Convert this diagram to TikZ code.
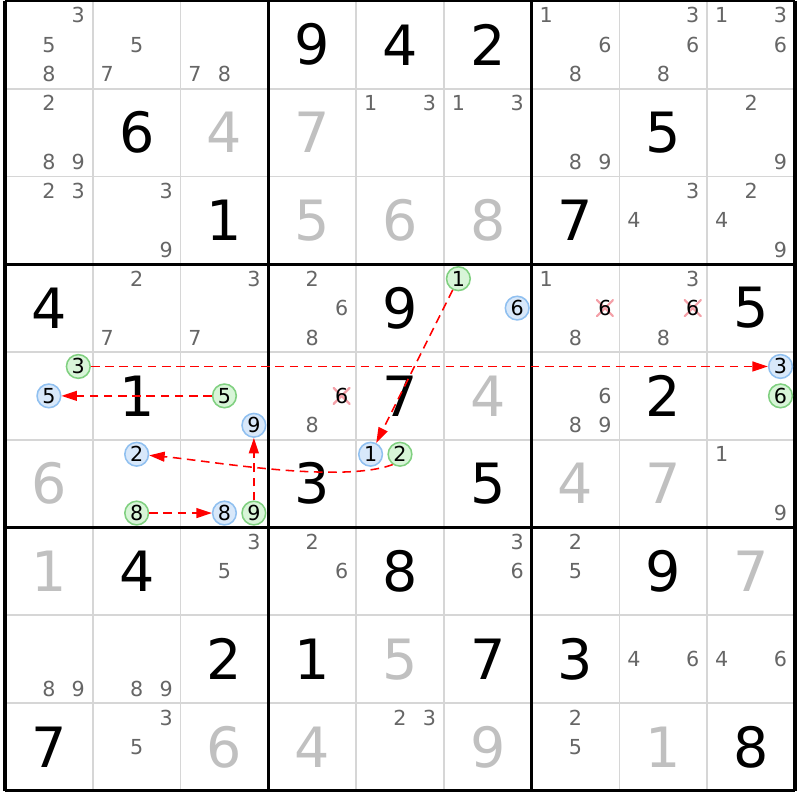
\documentclass[tikz,border=0pt]{standalone}
\usepackage{fontspec}
\setmainfont{DejaVu Sans}
\usetikzlibrary{arrows.meta}

\definecolor{candgray}{HTML}{666666}
\definecolor{solvedgray}{HTML}{C0C0C0}
\definecolor{gridgray}{HTML}{D6D6D6}
\definecolor{grnfill}{HTML}{D8F5D8}
\definecolor{grnline}{HTML}{80D080}
\definecolor{blufill}{HTML}{D8E8FA}
\definecolor{bluline}{HTML}{90C0F0}
\definecolor{xpink}{HTML}{F4A0A8}

\tikzset{
  gridline/.style={draw=gridgray, line width=0.6pt},
  boxline/.style={draw=black, line width=1pt},
  given/.style={font=\fontsize{18}{18}\selectfont, inner sep=0pt},
  solved/.style={given, text=solvedgray},
  cand/.style={font=\fontsize{6.7}{6.7}\selectfont, text=candgray, inner sep=0pt},
  hlg/.style={cand, text=black, circle, draw=grnline, fill=grnfill, line width=0.5pt, minimum size=0.27cm},
  hlb/.style={cand, text=black, circle, draw=bluline, fill=blufill, line width=0.5pt, minimum size=0.27cm},
  crossed/.style={cand, text=black, minimum size=0.2cm,
    path picture={\draw[xpink, line width=0.7pt]
      (path picture bounding box.south west) -- (path picture bounding box.north east)
      (path picture bounding box.north west) -- (path picture bounding box.south east);}},
  link/.style={draw=red, line width=0.5pt, dash pattern=on 2.8pt off 1.8pt,
    -{Triangle[length=5pt,width=3.2pt]}}
}

% cell digits and pencil marks
\newcommand{\given}[3]{\node[given] (g#1#2) at (#2-0.5,0.5-#1) {#3};}
\newcommand{\solved}[3]{\node[solved] (s#1#2) at (#2-0.5,0.5-#1) {#3};}
\newcommand{\cnd}[4][cand]{\node[#1] (c#2#3#4) at ({#3-1+0.165+0.335*mod(#4-1,3)},{1-#2-0.165-0.335*floor((#4-1)/3)}) {#4};}
\newcommand{\cands}[3]{\foreach \k in {#3}{\cnd{#1}{#2}{\k}}}

\begin{document}
\begin{tikzpicture}
\useasboundingbox (-0.057,0.01) rectangle (9.057,-9.104);
\fill[white] (-0.057,0.01) rectangle (9.057,-9.104);

% grid
\foreach \i in {1,...,8} {
  \draw[gridline] (\i,0) -- (\i,-9);
  \draw[gridline] (0,-\i) -- (9,-\i);
}
\foreach \i in {0,3,6,9} {
  \draw[boxline] (\i,0) -- (\i,-9);
  \draw[boxline] (0,-\i) -- (9,-\i);
}

% row 1
\cands{1}{1}{3,5,8} \cands{1}{2}{5,7} \cands{1}{3}{7,8}
\given{1}{4}{9} \given{1}{5}{4} \given{1}{6}{2}
\cands{1}{7}{1,6,8} \cands{1}{8}{3,6,8} \cands{1}{9}{1,3,6}
% row 2
\cands{2}{1}{2,8,9} \given{2}{2}{6} \solved{2}{3}{4}
\solved{2}{4}{7} \cands{2}{5}{1,3} \cands{2}{6}{1,3}
\cands{2}{7}{8,9} \given{2}{8}{5} \cands{2}{9}{2,9}
% row 3
\cands{3}{1}{2,3} \cands{3}{2}{3,9} \given{3}{3}{1}
\solved{3}{4}{5} \solved{3}{5}{6} \solved{3}{6}{8}
\given{3}{7}{7} \cands{3}{8}{3,4} \cands{3}{9}{2,4,9}
% row 4
\given{4}{1}{4} \cands{4}{2}{2,7} \cands{4}{3}{3,7}
\cands{4}{4}{2,6,8} \given{4}{5}{9} \cnd[hlg]{4}{6}{1} \cnd[hlb]{4}{6}{6}
\cands{4}{7}{1,8} \cnd[crossed]{4}{7}{6}
\cands{4}{8}{3,8} \cnd[crossed]{4}{8}{6} \given{4}{9}{5}
% row 5
\cnd[hlg]{5}{1}{3} \cnd[hlb]{5}{1}{5} \given{5}{2}{1}
\cnd[hlg]{5}{3}{5} \cnd[hlb]{5}{3}{9}
\cands{5}{4}{8} \cnd[crossed]{5}{4}{6} \given{5}{5}{7} \solved{5}{6}{4}
\cands{5}{7}{6,8,9} \given{5}{8}{2} \cnd[hlb]{5}{9}{3} \cnd[hlg]{5}{9}{6}
% row 6
\solved{6}{1}{6} \cnd[hlb]{6}{2}{2} \cnd[hlg]{6}{2}{8}
\cnd[hlb]{6}{3}{8} \cnd[hlg]{6}{3}{9}
\given{6}{4}{3} \cnd[hlb]{6}{5}{1} \cnd[hlg]{6}{5}{2} \given{6}{6}{5}
\solved{6}{7}{4} \solved{6}{8}{7} \cands{6}{9}{1,9}
% row 7
\solved{7}{1}{1} \given{7}{2}{4} \cands{7}{3}{3,5}
\cands{7}{4}{2,6} \given{7}{5}{8} \cands{7}{6}{3,6}
\cands{7}{7}{2,5} \given{7}{8}{9} \solved{7}{9}{7}
% row 8
\cands{8}{1}{8,9} \cands{8}{2}{8,9} \given{8}{3}{2}
\given{8}{4}{1} \solved{8}{5}{5} \given{8}{6}{7}
\given{8}{7}{3} \cands{8}{8}{4,6} \cands{8}{9}{4,6}
% row 9
\given{9}{1}{7} \cands{9}{2}{3,5} \solved{9}{3}{6}
\solved{9}{4}{4} \cands{9}{5}{2,3} \solved{9}{6}{9}
\cands{9}{7}{2,5} \solved{9}{8}{1} \given{9}{9}{8}

% chain
\draw[link] (c513) -- (c593);
\draw[link] (c535) -- (c515);
\draw[link] (c639) -- (c539);
\draw[link] (c628) -- (c638);
\draw[link] (c461) -- (c651);
\draw[link] (c652.235) to[out=200,in=-5,looseness=0.6] (c622);
\end{tikzpicture}
\end{document}
